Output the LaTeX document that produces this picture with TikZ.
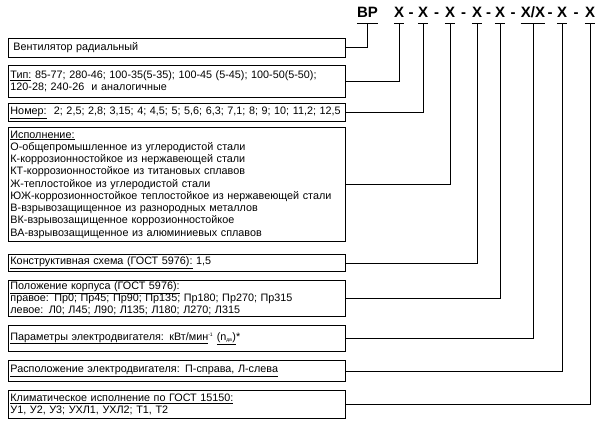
\documentclass[tikz,border=0pt]{standalone}
\usepackage{fontspec}
\setmainfont{Liberation Sans}
\begin{document}
\begin{tikzpicture}[x=1pt,y=-1pt,
  box/.style={draw, line width=0.9pt, anchor=north west, minimum width=337pt, text width=333pt, inner xsep=2pt, inner ysep=0pt, align=left, font=\fontsize{10.8}{12.25}\selectfont},
  hdr/.style={anchor=base, inner xsep=0pt, inner ysep=5pt, font=\fontsize{15}{18}\selectfont\bfseries},
  dsh/.style={anchor=base, inner sep=0pt, font=\fontsize{15}{18}\selectfont\bfseries},
  ln/.style={line width=0.9pt}]
\useasboundingbox (0,0) rectangle (600,428);
% header
\node[hdr] (bp) at (367.5,18) {ВР};
\node[hdr] (x1) at (399,18) {X};
\node[hdr] (x2) at (423,18) {X};
\node[hdr] (x3) at (450,18) {X};
\node[hdr] (x4) at (477,18) {X};
\node[hdr] (x5) at (500,18) {X};
\node[hdr] (x6) at (533,18) {X/X};
\node[hdr] (x7) at (562,18) {X};
\node[hdr] (x8) at (590,18) {X};
\node[dsh] (d1) at (411,18) {-};
\node[dsh] (d2) at (436.5,18) {-};
\node[dsh] (d3) at (463.5,18) {-};
\node[dsh] (d4) at (488.5,18) {-};
\node[dsh] (d5) at (513,18) {-};
\node[dsh] (d6) at (550,18) {-};
\node[dsh] (d7) at (576,18) {-};
\foreach \n in {bp,x1,x2,x3,x4,x5,x6,x7,x8}
  \draw[ln] (\n.south west) -- (\n.south east);
% boxes
\node[box, minimum height=19pt] (v) at (8,38) {\hspace*{3pt}Вентилятор радиальный};
\node[box, minimum height=32pt] (t) at (8,65) {\underline{Тип:} 85-77; 280-46; 100-35(5-35); 100-45 (5-45); 100-50(5-50);\\120-28; 240-26\ \ и аналогичные};
\node[box, minimum height=18pt] (n) at (8,103) {\underline{Номер:}\ \ 2; 2,5; 2,8; 3,15; 4; 4,5; 5; 5,6; 6,3; 7,1; 8; 9; 10; 11,2; 12,5};
\node[box, minimum height=114pt] (i) at (8,127) {\underline{Исполнение:}\\
О-общепромышленное из углеродистой стали\\
К-коррозионностойкое из нержавеющей стали\\
КТ-коррозионностойкое из титановых сплавов\\
Ж-теплостойкое из углеродистой стали\\
ЮЖ-коррозионностойкое теплостойкое из нержавеющей стали\\
В-взрывозащищенное из разнородных металлов\\
ВК-взрывозащищенное коррозионностойкое\\
ВА-взрывозащищенное из алюминиевых сплавов};
\node[box, minimum height=17pt] (k) at (8,254) {\underline{Конструктивная схема (ГОСТ 5976):} 1,5};
\node[box, minimum height=36pt] (p) at (8,280) {\underline{Положение корпуса (ГОСТ 5976):}\\
правое: Пр0; Пр45; Пр90; Пр135; Пр180; Пр270; Пр315\\
левое: Л0; Л45; Л90; Л135; Л180; Л270; Л315};
\node[box, minimum height=26pt] (e) at (8,325) {\underline{Параметры электродвигателя: кВт/мин}\textsuperscript{\tiny -1} \underline{(n\textsubscript{\tiny дв})}*};
\node[box, minimum height=21pt] (r) at (8,360) {\underline{Расположение электродвигателя: П-справа, Л-слева}};
\node[box, minimum height=28pt] (c) at (8,390) {\underline{Климатическое исполнение по ГОСТ 15150:}\\
У1, У2, У3; УХЛ1, УХЛ2; Т1, Т2};
% connectors
\draw[ln] (v.east) -| (bp.south);
\draw[ln] (t.east) -| (x1.south);
\draw[ln] (n.east) -| (x2.south);
\draw[ln] (i.east) -| (x3.south);
\draw[ln] (k.east) -| (x4.south);
\draw[ln] (p.east) -| (x5.south);
\draw[ln] (e.east) -| (x6.south);
\draw[ln] (r.east) -| (x7.south);
\draw[ln] (c.east) -| (x8.south);
\end{tikzpicture}
\end{document}
